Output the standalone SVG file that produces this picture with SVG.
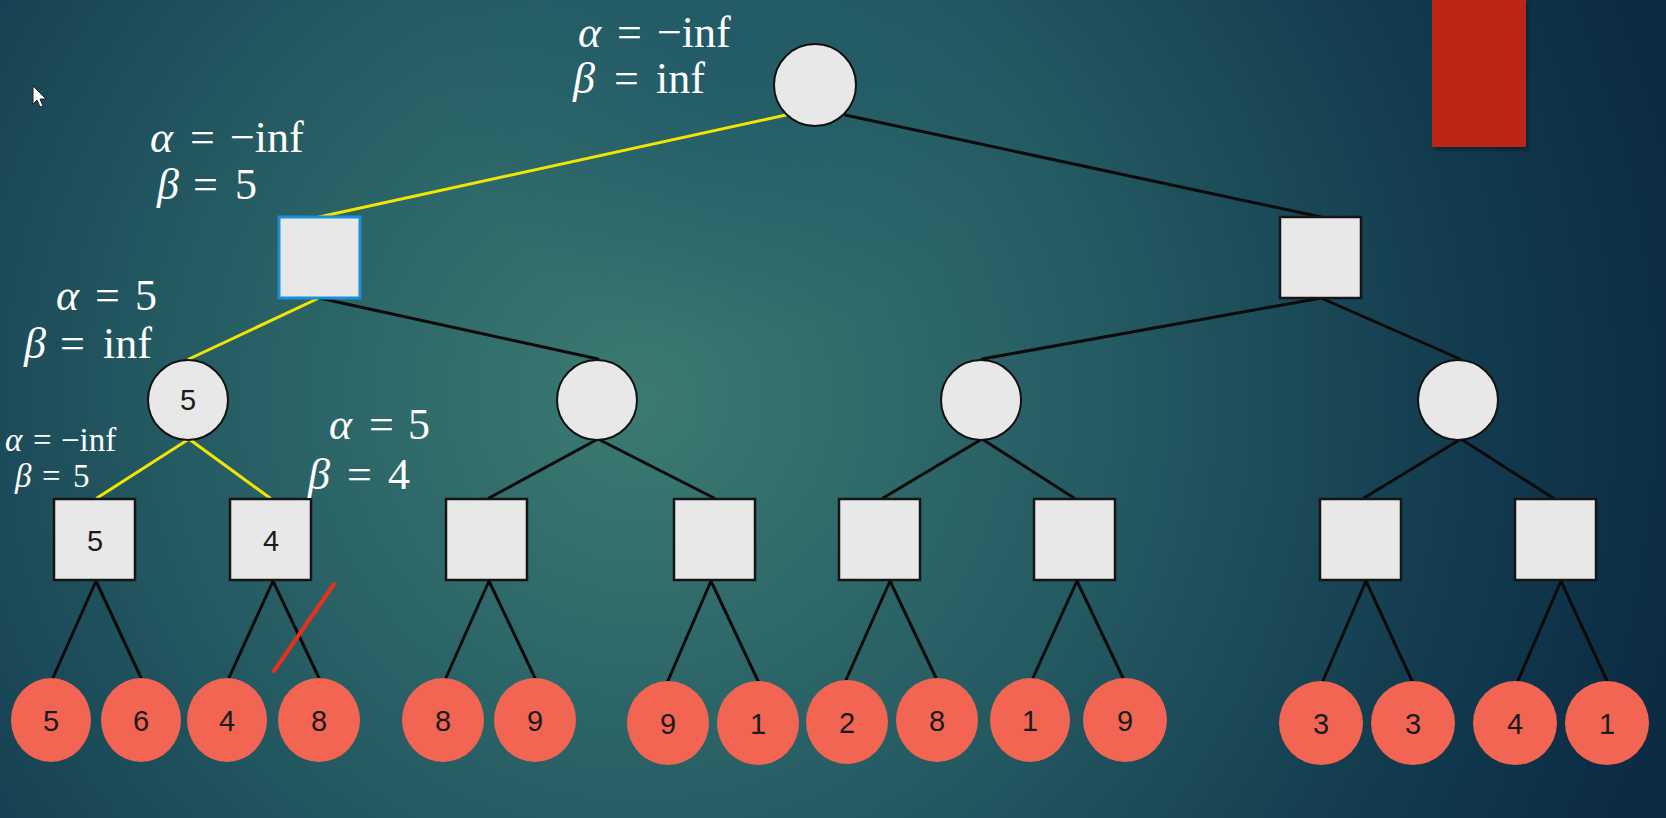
<svg xmlns="http://www.w3.org/2000/svg" width="1666" height="818" viewBox="0 0 1666 818">
<defs>
<radialGradient id="bg" cx="640" cy="400" r="1050" gradientUnits="userSpaceOnUse">
<stop offset="0" stop-color="#3b7a72"/>
<stop offset="0.45" stop-color="#245a62"/>
<stop offset="0.8" stop-color="#123a4e"/>
<stop offset="1" stop-color="#0c2c44"/>
</radialGradient>
<radialGradient id="bg2" cx="730" cy="40" r="300" gradientUnits="userSpaceOnUse">
<stop offset="0" stop-color="#1f5868" stop-opacity="0.7"/>
<stop offset="1" stop-color="#1f5868" stop-opacity="0"/>
</radialGradient>
<filter id="sh" x="-10%" y="-10%" width="130%" height="130%">
<feDropShadow dx="2" dy="3" stdDeviation="2" flood-color="#000" flood-opacity="0.35"/>
</filter>
</defs>
<style>
.edge{stroke:#0a0a0a;stroke-width:3;fill:none;stroke-linecap:round}
.hl{stroke:#f2e600;stroke-width:3;fill:none;stroke-linecap:round}
.cir{fill:#e8e8e8;stroke:#111;stroke-width:2}
.sq{fill:#e8e8e8;stroke:#151515;stroke-width:2.5}
.leaf{fill:#f26552}
.num{font-family:"Liberation Sans",Arial,sans-serif;font-size:29px;fill:#1a1a1a;text-anchor:middle}
.lab{font-family:"Liberation Serif","Times New Roman",serif;font-size:44px;fill:#ffffff}
.labs{font-family:"Liberation Serif","Times New Roman",serif;font-size:33px;fill:#ffffff}
.g{font-style:italic}
</style>
<rect width="1666" height="818" fill="url(#bg)"/>
<rect width="1666" height="818" fill="url(#bg2)"/>
<rect x="1432" y="0" width="94" height="147" fill="#bd2615" filter="url(#sh)"/>
<path d="M33,86 L33,104 L37,100 L40,107 L43,106 L40,99 L46,99 Z" fill="#ffffff" stroke="#222" stroke-width="1"/>

<g id="connectors">
<line class="hl" x1="786" y1="115" x2="319" y2="217"/>
<line class="edge" x1="845" y1="115" x2="1321" y2="217"/>
<line class="hl" x1="319" y1="298" x2="189" y2="359"/>
<line class="edge" x1="319" y1="298" x2="598" y2="359"/>
<line class="edge" x1="1321" y1="298" x2="982" y2="359"/>
<line class="edge" x1="1321" y1="298" x2="1460" y2="359"/>
<line class="hl" x1="189" y1="439" x2="97" y2="498"/>
<line class="hl" x1="189" y1="439" x2="270" y2="498"/>
<line class="edge" x1="598" y1="439" x2="489" y2="498"/>
<line class="edge" x1="598" y1="439" x2="714" y2="498"/>
<line class="edge" x1="982" y1="439" x2="883" y2="498"/>
<line class="edge" x1="982" y1="439" x2="1074" y2="498"/>
<line class="edge" x1="1461" y1="439" x2="1364" y2="498"/>
<line class="edge" x1="1461" y1="439" x2="1553" y2="498"/>
<line class="edge" x1="96" y1="581" x2="52" y2="680"/>
<line class="edge" x1="96" y1="581" x2="142" y2="680"/>
<line class="edge" x1="273" y1="581" x2="228" y2="680"/>
<line class="edge" x1="273" y1="581" x2="320" y2="680"/>
<line class="edge" x1="489" y1="581" x2="445" y2="680"/>
<line class="edge" x1="489" y1="581" x2="536" y2="680"/>
<line class="edge" x1="711" y1="581" x2="667" y2="683"/>
<line class="edge" x1="711" y1="581" x2="759" y2="683"/>
<line class="edge" x1="890" y1="581" x2="846" y2="680"/>
<line class="edge" x1="890" y1="581" x2="937" y2="680"/>
<line class="edge" x1="1077" y1="581" x2="1032" y2="680"/>
<line class="edge" x1="1077" y1="581" x2="1124" y2="680"/>
<line class="edge" x1="1366" y1="581" x2="1322" y2="683"/>
<line class="edge" x1="1366" y1="581" x2="1413" y2="683"/>
<line class="edge" x1="1561" y1="581" x2="1517" y2="683"/>
<line class="edge" x1="1561" y1="581" x2="1608" y2="683"/>
<line x1="334" y1="584" x2="274" y2="671" stroke="#e8301c" stroke-width="4" stroke-linecap="round"/>
</g>

<g id="root"><circle class="cir" cx="815" cy="85" r="41"/></g>
<g id="max-left"><rect x="279" y="217" width="81" height="81" fill="#e8e8e8" stroke="#1b90d8" stroke-width="3"/></g>
<g id="max-right"><rect class="sq" x="1280" y="217" width="81" height="81"/></g>

<g id="min-1"><circle class="cir" cx="188" cy="400" r="40"/><text class="num" x="188" y="410">5</text></g>
<g id="min-2"><circle class="cir" cx="597" cy="400" r="40"/></g>
<g id="min-3"><circle class="cir" cx="981" cy="400" r="40"/></g>
<g id="min-4"><circle class="cir" cx="1458" cy="400" r="40"/></g>

<g id="max-1"><rect class="sq" x="54" y="499" width="81" height="81"/><text class="num" x="95" y="551">5</text></g>
<g id="max-2"><rect class="sq" x="230" y="499" width="81" height="81"/><text class="num" x="271" y="551">4</text></g>
<g id="max-3"><rect class="sq" x="446" y="499" width="81" height="81"/></g>
<g id="max-4"><rect class="sq" x="674" y="499" width="81" height="81"/></g>
<g id="max-5"><rect class="sq" x="839" y="499" width="81" height="81"/></g>
<g id="max-6"><rect class="sq" x="1034" y="499" width="81" height="81"/></g>
<g id="max-7"><rect class="sq" x="1320" y="499" width="81" height="81"/></g>
<g id="max-8"><rect class="sq" x="1515" y="499" width="81" height="81"/></g>

<g id="leaf-1"><ellipse class="leaf" cx="51" cy="720" rx="40" ry="42"/><text class="num" x="51" y="731">5</text></g>
<g id="leaf-2"><ellipse class="leaf" cx="141" cy="720" rx="40" ry="42"/><text class="num" x="141" y="731">6</text></g>
<g id="leaf-3"><ellipse class="leaf" cx="227" cy="720" rx="40" ry="42"/><text class="num" x="227" y="731">4</text></g>
<g id="leaf-4"><ellipse class="leaf" cx="319" cy="720" rx="41" ry="42"/><text class="num" x="319" y="731">8</text></g>
<g id="leaf-5"><ellipse class="leaf" cx="443" cy="720" rx="41" ry="42"/><text class="num" x="443" y="731">8</text></g>
<g id="leaf-6"><ellipse class="leaf" cx="535" cy="720" rx="41" ry="42"/><text class="num" x="535" y="731">9</text></g>
<g id="leaf-7"><ellipse class="leaf" cx="668" cy="723" rx="41" ry="42"/><text class="num" x="668" y="734">9</text></g>
<g id="leaf-8"><ellipse class="leaf" cx="758" cy="723" rx="41" ry="42"/><text class="num" x="758" y="734">1</text></g>
<g id="leaf-9"><ellipse class="leaf" cx="847" cy="722" rx="41" ry="42"/><text class="num" x="847" y="733">2</text></g>
<g id="leaf-10"><ellipse class="leaf" cx="937" cy="720" rx="41" ry="42"/><text class="num" x="937" y="731">8</text></g>
<g id="leaf-11"><ellipse class="leaf" cx="1030" cy="720" rx="40" ry="42"/><text class="num" x="1030" y="731">1</text></g>
<g id="leaf-12"><ellipse class="leaf" cx="1125" cy="720" rx="42" ry="42"/><text class="num" x="1125" y="731">9</text></g>
<g id="leaf-13"><ellipse class="leaf" cx="1321" cy="723" rx="42" ry="42"/><text class="num" x="1321" y="734">3</text></g>
<g id="leaf-14"><ellipse class="leaf" cx="1413" cy="723" rx="42" ry="42"/><text class="num" x="1413" y="734">3</text></g>
<g id="leaf-15"><ellipse class="leaf" cx="1515" cy="723" rx="42" ry="42"/><text class="num" x="1515" y="734">4</text></g>
<g id="leaf-16"><ellipse class="leaf" cx="1607" cy="723" rx="42" ry="42"/><text class="num" x="1607" y="734">1</text></g>

<g id="labels">
<text class="lab" y="47"><tspan class="g" x="578">α</tspan><tspan x="617">=</tspan><tspan x="657">−inf</tspan></text>
<text class="lab" y="93"><tspan class="g" x="573">β</tspan><tspan x="614">=</tspan><tspan x="656">inf</tspan></text>
<text class="lab" y="152"><tspan class="g" x="150">α</tspan><tspan x="190">=</tspan><tspan x="230">−inf</tspan></text>
<text class="lab" y="199"><tspan class="g" x="157">β</tspan><tspan x="193">=</tspan><tspan x="235">5</tspan></text>
<text class="lab" y="310"><tspan class="g" x="56">α</tspan><tspan x="95">=</tspan><tspan x="135">5</tspan></text>
<text class="lab" y="358"><tspan class="g" x="24">β</tspan><tspan x="60">=</tspan><tspan x="103">inf</tspan></text>
<text class="labs" y="451"><tspan class="g" x="5">α</tspan><tspan x="33">=</tspan><tspan x="61">−inf</tspan></text>
<text class="labs" y="487"><tspan class="g" x="15">β</tspan><tspan x="42">=</tspan><tspan x="73">5</tspan></text>
<text class="lab" y="439"><tspan class="g" x="329">α</tspan><tspan x="369">=</tspan><tspan x="408">5</tspan></text>
<text class="lab" y="489"><tspan class="g" x="308">β</tspan><tspan x="347">=</tspan><tspan x="388">4</tspan></text>
</g>
</svg>
